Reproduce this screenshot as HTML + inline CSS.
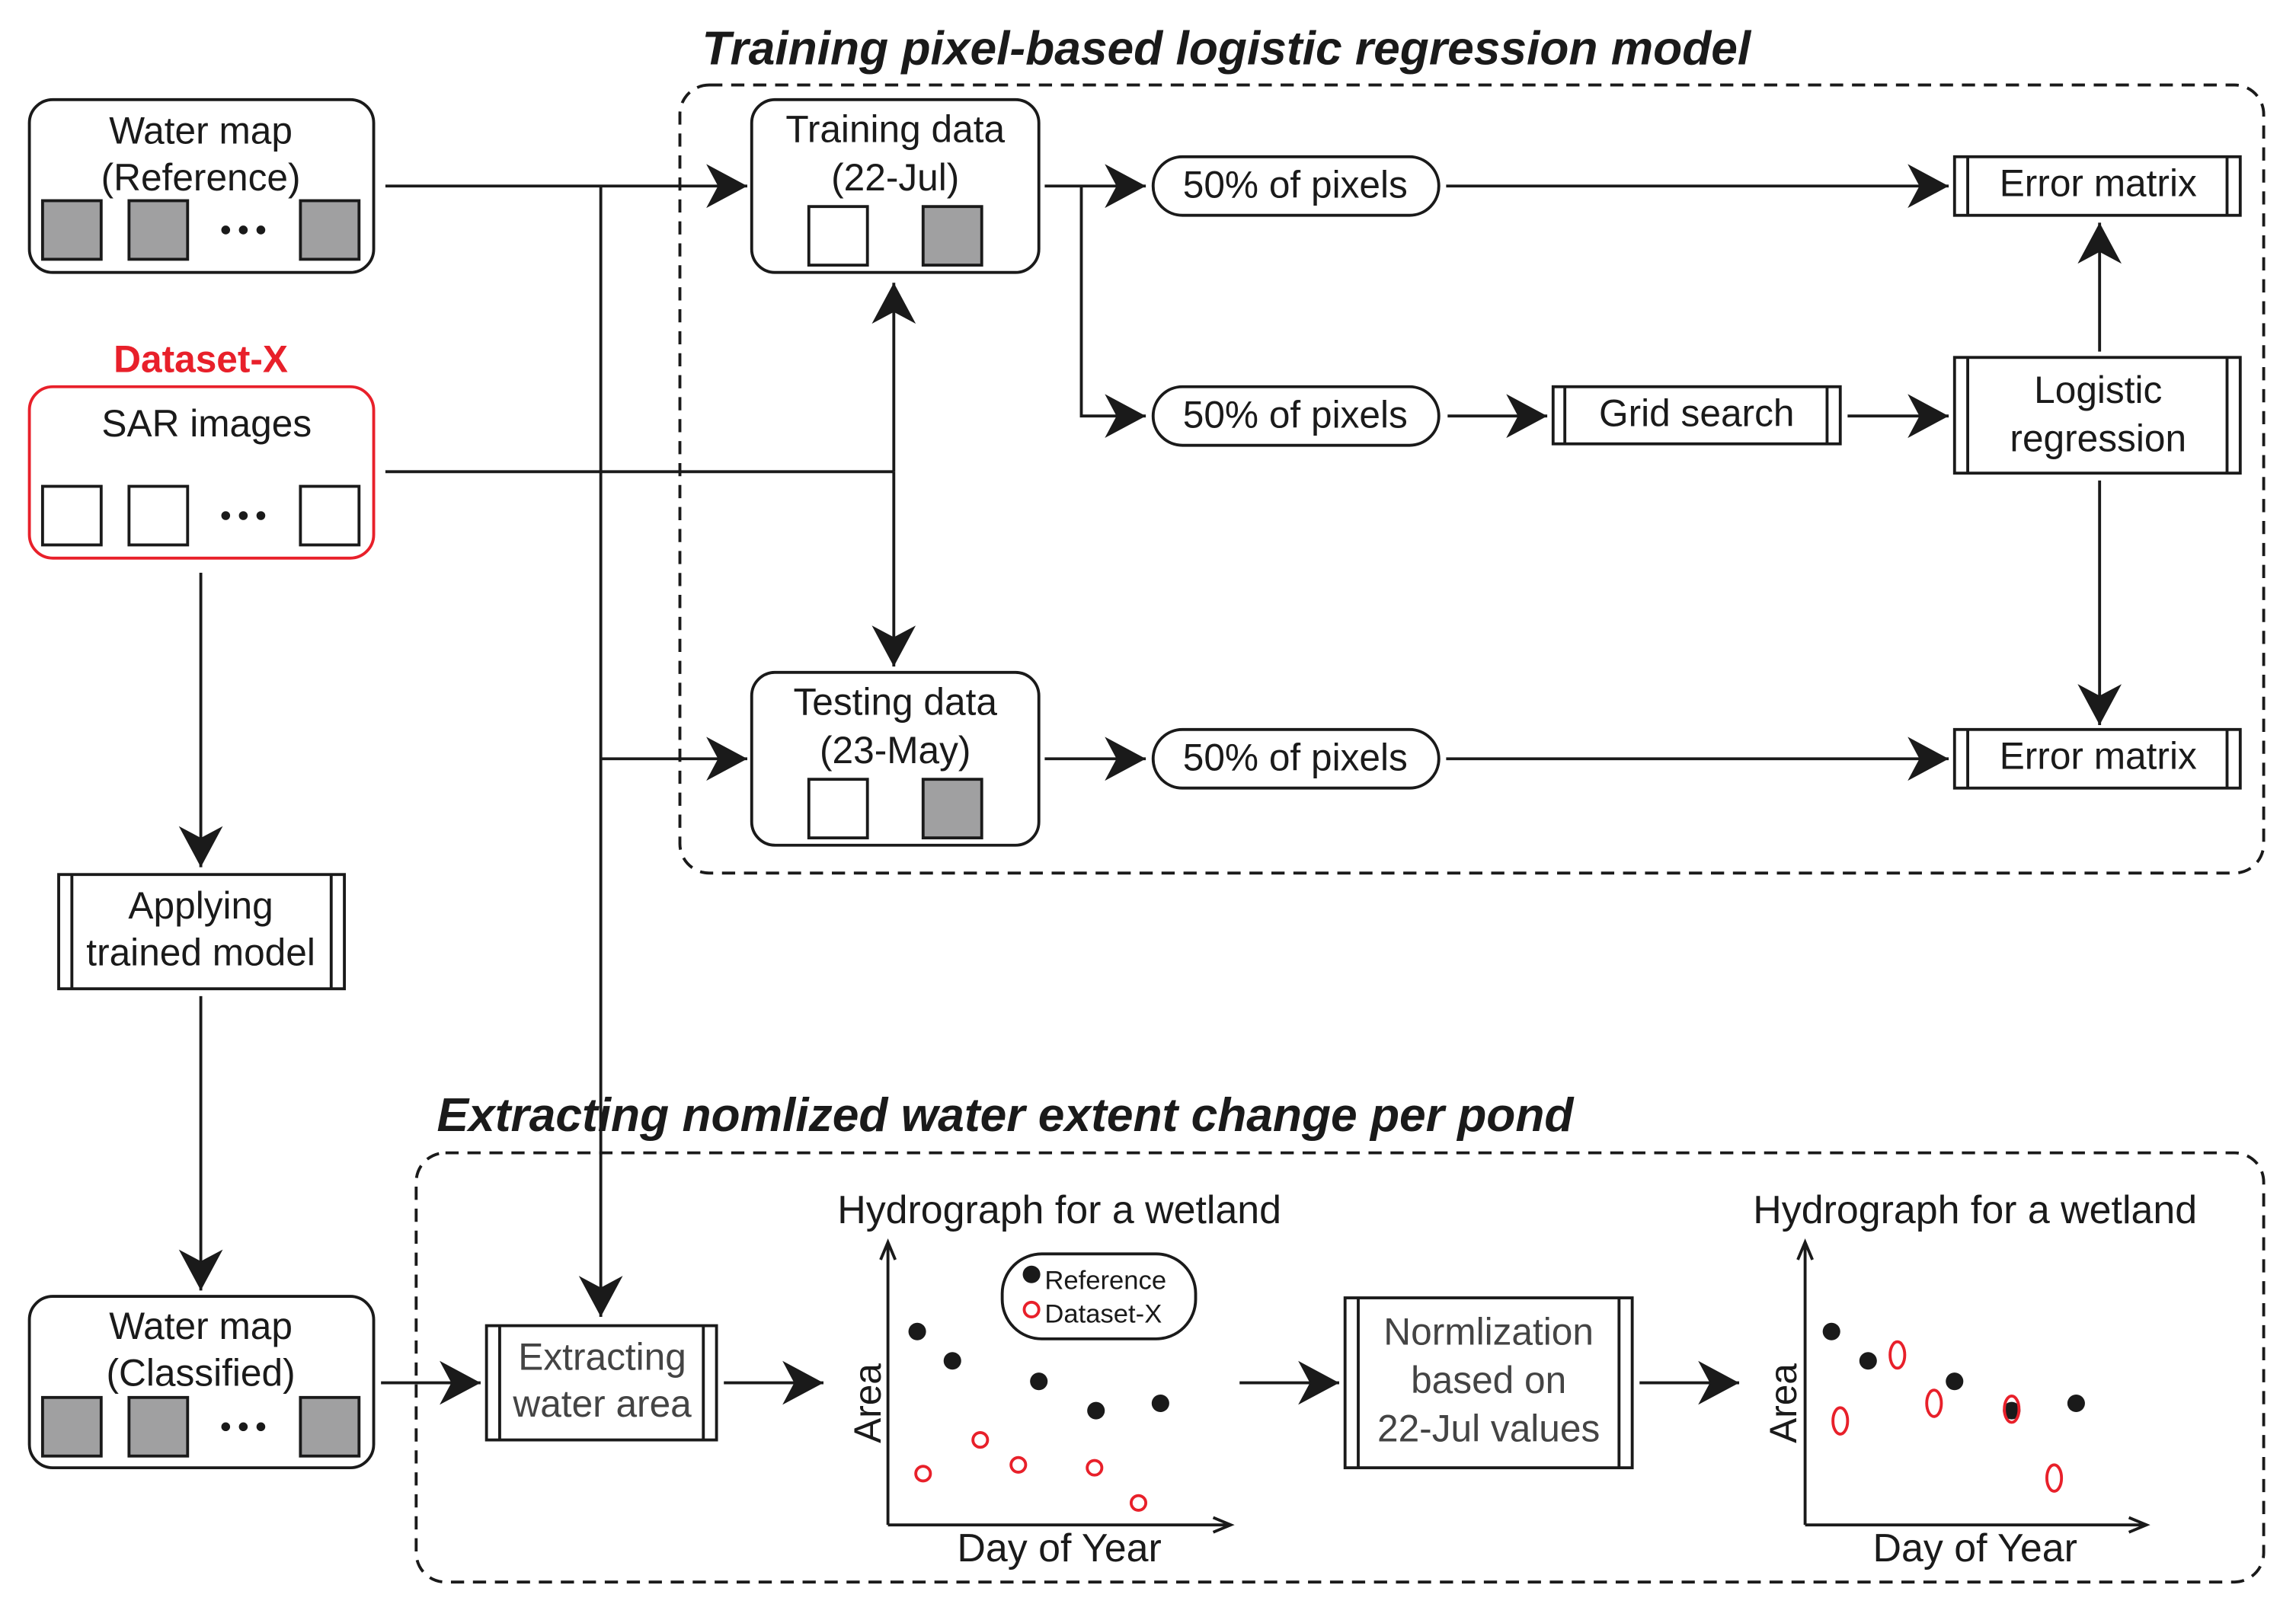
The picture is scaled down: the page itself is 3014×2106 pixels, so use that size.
<!DOCTYPE html>
<html><head><meta charset="utf-8"><style>
html,body{margin:0;padding:0;background:#fff}
svg{display:block}
text{font-family:"Liberation Sans",sans-serif;fill:#1a1a1a}
</style></head><body>
<svg width="3014" height="2106" viewBox="0 0 1567 1095" xmlns="http://www.w3.org/2000/svg">
<defs>
<marker id="a" markerUnits="userSpaceOnUse" markerWidth="30" markerHeight="32" refX="28" refY="15" orient="auto">
<path d="M0,0 L28,15 L0,30 L8,15 Z" fill="#1a1a1a"/>
</marker>
</defs>
<g stroke="#1a1a1a" stroke-width="2" fill="none">
<rect x="464" y="58" width="1081" height="538" rx="20" stroke-dasharray="9,6"/>
<rect x="284" y="787" width="1261" height="293" rx="20" stroke-dasharray="9,6"/>
<rect x="20" y="68" width="235" height="118" rx="16"/>
<rect x="20" y="264" width="235" height="117" rx="16" stroke="#e8202a"/>
<rect x="20" y="885" width="235" height="117" rx="16"/>
<rect x="40" y="597" width="195" height="78"/><line x1="49" y1="597" x2="49" y2="675"/><line x1="226" y1="597" x2="226" y2="675"/>
<rect x="513" y="68" width="196" height="118" rx="16"/>
<rect x="513" y="459" width="196" height="118" rx="16"/>
<rect x="787" y="107" width="195" height="40" rx="20"/>
<rect x="787" y="264" width="195" height="40" rx="20"/>
<rect x="787" y="498" width="195" height="40" rx="20"/>
<rect x="1334" y="107" width="195" height="40"/><line x1="1343" y1="107" x2="1343" y2="147"/><line x1="1520" y1="107" x2="1520" y2="147"/>
<rect x="1334" y="498" width="195" height="40"/><line x1="1343" y1="498" x2="1343" y2="538"/><line x1="1520" y1="498" x2="1520" y2="538"/>
<rect x="1060" y="264" width="196" height="39"/><line x1="1068" y1="264" x2="1068" y2="303"/><line x1="1247" y1="264" x2="1247" y2="303"/>
<rect x="1334" y="244" width="195" height="79"/><line x1="1343" y1="244" x2="1343" y2="323"/><line x1="1520" y1="244" x2="1520" y2="323"/>
<rect x="332" y="905" width="157" height="78"/><line x1="341" y1="905" x2="341" y2="983"/><line x1="480" y1="905" x2="480" y2="983"/>
<rect x="918" y="886" width="196" height="116"/><line x1="927" y1="886" x2="927" y2="1002"/><line x1="1105" y1="886" x2="1105" y2="1002"/>
<g fill="#a0a0a1">
<rect x="29" y="137" width="40" height="40"/><rect x="88" y="137" width="40" height="40"/><rect x="205" y="137" width="40" height="40"/>
<rect x="29" y="954" width="40" height="40"/><rect x="88" y="954" width="40" height="40"/><rect x="205" y="954" width="40" height="40"/>
<rect x="630" y="141" width="40" height="40"/><rect x="630" y="532" width="40" height="40"/>
</g>
<rect x="29" y="332" width="40" height="40"/><rect x="88" y="332" width="40" height="40"/><rect x="205" y="332" width="40" height="40"/>
<rect x="552" y="141" width="40" height="40"/><rect x="552" y="532" width="40" height="40"/>
<path d="M263,127 H510" marker-end="url(#a)"/>
<path d="M410,127 V899" marker-end="url(#a)"/>
<path d="M410,518 H510" marker-end="url(#a)"/>
<path d="M263,322 H610"/>
<path d="M610,322 V193" marker-end="url(#a)"/>
<path d="M610,322 V455" marker-end="url(#a)"/>
<path d="M137,391 V592" marker-end="url(#a)"/>
<path d="M137,680 V881" marker-end="url(#a)"/>
<path d="M260,944 H328" marker-end="url(#a)"/>
<path d="M494,944 H562" marker-end="url(#a)"/>
<path d="M713,127 H782" marker-end="url(#a)"/>
<path d="M738,127 V284 H782" marker-end="url(#a)"/>
<path d="M987,127 H1330" marker-end="url(#a)"/>
<path d="M988,284 H1056" marker-end="url(#a)"/>
<path d="M1261,284 H1330" marker-end="url(#a)"/>
<path d="M1433,240 V152" marker-end="url(#a)"/>
<path d="M1433,328 V495" marker-end="url(#a)"/>
<path d="M713,518 H782" marker-end="url(#a)"/>
<path d="M987,518 H1330" marker-end="url(#a)"/>
<path d="M846,944 H914" marker-end="url(#a)"/>
<path d="M1119,944 H1187" marker-end="url(#a)"/>
<path d="M606,1041 V848 M601,860 L606,848 L611,860"/><path d="M606,1041 H840 M828,1036 L840,1041 L828,1046"/>
<path d="M1232,1041 V848 M1227,860 L1232,848 L1237,860"/><path d="M1232,1041 H1465 M1453,1036 L1465,1041 L1453,1046"/>
<rect x="684" y="856" width="132" height="58" rx="27"/>
</g>
<g fill="#1a1a1a">
<circle cx="166" cy="157" r="3"/><circle cx="154" cy="157" r="3"/><circle cx="178" cy="157" r="3"/>
<circle cx="154" cy="352" r="3"/><circle cx="166" cy="352" r="3"/><circle cx="178" cy="352" r="3"/>
<circle cx="154" cy="974" r="3"/><circle cx="166" cy="974" r="3"/><circle cx="178" cy="974" r="3"/>
<circle cx="704" cy="870" r="6"/>
<circle cx="626" cy="909" r="6"/><circle cx="650" cy="929" r="6"/><circle cx="709" cy="943" r="6"/><circle cx="748" cy="963" r="6"/><circle cx="792" cy="958" r="6"/>
<circle cx="1250" cy="909" r="6"/><circle cx="1275" cy="929" r="6"/><circle cx="1334" cy="943" r="6"/><circle cx="1373" cy="963" r="6"/><circle cx="1417" cy="958" r="6"/>
</g>
<g fill="none" stroke="#e8202a" stroke-width="2">
<circle cx="704" cy="894" r="5"/>
<circle cx="630" cy="1006" r="5"/><circle cx="669" cy="983" r="5"/><circle cx="695" cy="1000" r="5"/><circle cx="747" cy="1002" r="5"/><circle cx="777" cy="1026" r="5"/>
<ellipse cx="1256" cy="970" rx="5" ry="9"/><ellipse cx="1295" cy="925" rx="5" ry="9"/><ellipse cx="1320" cy="958" rx="5" ry="9"/><ellipse cx="1373" cy="962" rx="5" ry="9"/><ellipse cx="1402" cy="1009" rx="5" ry="9"/>
</g>
<g font-size="25.8" text-anchor="middle">
<text x="837" y="44" font-size="32.4" font-weight="bold" font-style="italic">Training pixel-based logistic regression model</text>
<text x="686" y="772" font-size="32.4" font-weight="bold" font-style="italic">Extracting nomlized water extent change per pond</text>
<text x="137" y="98">Water map</text><text x="137" y="130">(Reference)</text>
<text x="137" y="254" font-weight="bold" style="fill:#e8202a">Dataset-X</text>
<text x="141" y="298">SAR images</text>
<text x="137" y="627">Applying</text><text x="137" y="659">trained model</text>
<text x="137" y="914">Water map</text><text x="137" y="946">(Classified)</text>
<text x="611" y="97">Training data</text><text x="611" y="130">(22-Jul)</text>
<text x="611" y="488">Testing data</text><text x="611" y="521">(23-May)</text>
<text x="884" y="135">50% of pixels</text><text x="884" y="292">50% of pixels</text><text x="884" y="526">50% of pixels</text>
<text x="1432" y="134">Error matrix</text><text x="1432" y="525">Error matrix</text>
<text x="1158" y="291">Grid search</text>
<text x="1432" y="275">Logistic</text><text x="1432" y="308">regression</text>
<text x="411" y="935" style="fill:#444">Extracting</text><text x="411" y="967" style="fill:#444">water area</text>
<text x="1016" y="918" style="fill:#444">Normlization</text><text x="1016" y="951" style="fill:#444">based on</text><text x="1016" y="984" style="fill:#444">22-Jul values</text>
<text x="723" y="835" font-size="27">Hydrograph for a wetland</text><text x="1348" y="835" font-size="27">Hydrograph for a wetland</text>
<text x="723" y="1066" font-size="27">Day of Year</text><text x="1348" y="1066" font-size="27">Day of Year</text>
<text transform="translate(601,958) rotate(-90)">Area</text>
<text transform="translate(1226,958) rotate(-90)">Area</text>
<text x="713" y="880" font-size="18" text-anchor="start">Reference</text>
<text x="713" y="903" font-size="18" text-anchor="start">Dataset-X</text>
</g>
</svg>
</body></html>
